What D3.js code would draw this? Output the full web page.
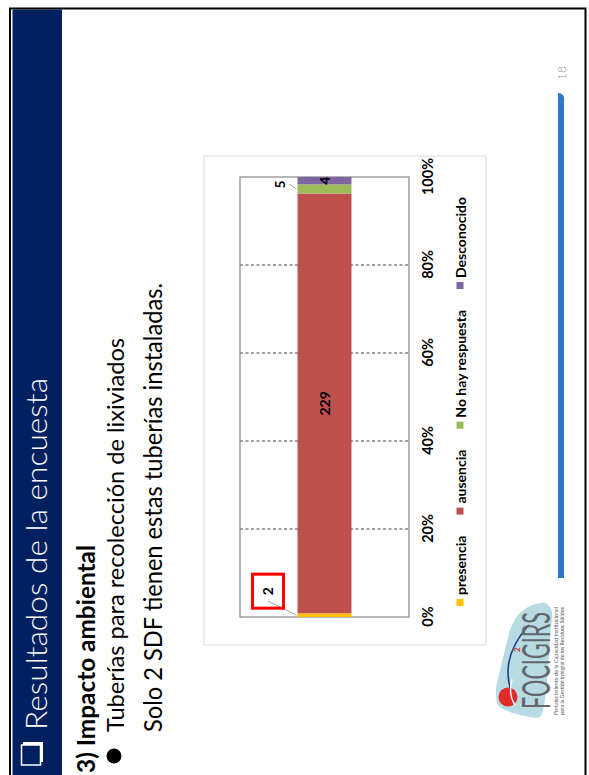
<!DOCTYPE html>
<html>
<head>
<meta charset="utf-8">
<script src="https://cdn.jsdelivr.net/npm/d3@7"></script>
<style>
  html, body { margin: 0; padding: 0; background: #ffffff; }
  svg { display: block; }
  text { font-family: Lato, "Open Sans", "DejaVu Sans", sans-serif; }
</style>
</head>
<body>
<svg id="slide" width="589" height="775"></svg>
<script>
// Survey results: leachate collection pipes at final disposal sites (SDF)
const categories = ["presencia", "ausencia", "No hay respuesta", "Desconocido"];
const counts = [2, 229, 5, 4];
const colors = ["#ffc000", "#c0504d", "#9bbb59", "#8064a2"];
const tickValues = [0, 0.2, 0.4, 0.6, 0.8, 1];
const gridValues = [0.2, 0.4, 0.6, 0.8];

const titleText = "Resultados de la encuesta";
const sectionText = "3) Impacto ambiental";
const bulletText = "Tuberías para recolección de lixiviados";
const noteText = "Solo 2 SDF tienen estas tuberías instaladas.";
const pageNumber = "18";
const logoName = "FOCIGIRS";
const logoLines = ["Fortalecimiento de la Capacidad Institucional",
                   "para la Gestión Integral de los Residuos Sólidos"];

const svg = d3.select("#slide");

// The slide is laid out in its own landscape frame (775 x 589) and turned a quarter turn.
const slide = svg.append("g").attr("transform", "translate(0,775) rotate(-90)");

// ---- frame and header band ----
slide.append("rect").attr("x", 0).attr("y", 12.5).attr("width", 765.5).attr("height", 49.5)
  .attr("fill", "#002060");
const frame = slide.append("g").attr("stroke", "#000").attr("stroke-width", 2).attr("fill", "none");
frame.append("path").attr("d", "M0,10 H766.5 V585.5 H0");

// checkbox glyph in the header
const box = slide.append("g");
box.append("path").attr("d", "M13,41.5 H31.5 V23").attr("stroke", "#fff").attr("stroke-width", 3).attr("fill", "none");
box.append("rect").attr("x", 10).attr("y", 21.5).attr("width", 20).attr("height", 19)
  .attr("stroke", "#fff").attr("stroke-width", 1.5).attr("fill", "none");

slide.append("text").attr("x", 45).attr("y", 47).text(titleText)
  .attr("fill", "#fff").attr("font-size", 30).attr("font-weight", 300)
  .attr("textLength", 352).attr("lengthAdjust", "spacingAndGlyphs");

// ---- body text ----
slide.append("text").attr("x", 2).attr("y", 94.5).text(sectionText)
  .attr("fill", "#000").attr("font-size", 24).attr("font-weight", 700)
  .attr("textLength", 228).attr("lengthAdjust", "spacingAndGlyphs");
slide.append("circle").attr("cx", 19).attr("cy", 114).attr("r", 7.5).attr("fill", "#000");
slide.append("text").attr("x", 43).attr("y", 124).text(bulletText)
  .attr("fill", "#000").attr("font-size", 22.5)
  .attr("textLength", 394).attr("lengthAdjust", "spacingAndGlyphs");
slide.append("text").attr("x", 43).attr("y", 162).text(noteText)
  .attr("fill", "#000").attr("font-size", 24.5)
  .attr("textLength", 449).attr("lengthAdjust", "spacingAndGlyphs");

// ---- chart ----
const chart = slide.append("g");
chart.append("rect").attr("x", 130).attr("y", 204).attr("width", 489).attr("height", 282)
  .attr("fill", "#fff").attr("stroke", "#d9d9d9").attr("stroke-width", 1);

const total = d3.sum(counts);
let acc = 0;
const segments = counts.map((c, i) => {
  const s = { key: categories[i], value: c, x0: acc / total, x1: (acc + c) / total, color: colors[i] };
  acc += c;
  return s;
});

const x = d3.scaleLinear().domain([0, 1]).range([158, 598]);
const y = d3.scaleBand().domain(["SDF"]).range([240, 409]).padding(0.516);

chart.append("g").selectAll("line").data(gridValues).join("line")
  .attr("x1", d => x(d)).attr("x2", d => x(d))
  .attr("y1", 240).attr("y2", 409)
  .attr("stroke", "#404040").attr("stroke-width", 1).attr("stroke-dasharray", "3,2.5");

chart.append("rect").attr("x", x(0)).attr("y", 240).attr("width", x(1) - x(0)).attr("height", 169)
  .attr("fill", "none").attr("stroke", "#868686").attr("stroke-width", 1.2);

chart.append("g").selectAll("rect").data(segments).join("rect")
  .attr("x", d => x(d.x0)).attr("width", d => x(d.x1) - x(d.x0))
  .attr("y", y("SDF")).attr("height", y.bandwidth())
  .attr("fill", d => d.color);

// percentage axis
const axis = chart.append("g").attr("transform", "translate(0,409)")
  .call(d3.axisBottom(x).tickValues(tickValues).tickFormat(d3.format(".0%")).tickSize(0).tickPadding(14));
axis.select(".domain").remove();
axis.selectAll("text").attr("font-family", "Lato, 'Open Sans', sans-serif")
  .attr("font-size", 14.5).attr("font-weight", 700).attr("fill", "#000");

// value labels: large segments inside, thin ones outside with a leader line
const outside = { "presencia": { du: 24, dv: -30, lu: 174, lv: 268 }, "No hay respuesta": { du: 4.5, dv: -18.5, lu: 591, lv: 289 } };
const labels = chart.append("g").attr("font-size", 14).attr("font-weight", 700).attr("fill", "#000");
segments.forEach(d => {
  const cu = x((d.x0 + d.x1) / 2);
  const cv = y("SDF") + y.bandwidth() / 2;
  const o = outside[d.key];
  if (o) {
    const lu = cu + o.du, lv = y("SDF") + o.dv;
    chart.append("line").attr("x1", o.lu).attr("y1", o.lv).attr("x2", cu).attr("y2", y("SDF") - 1)
      .attr("stroke", "#a6a6a6").attr("stroke-width", 1);
    labels.append("text").attr("x", lu).attr("y", lv).attr("text-anchor", "middle")
      .attr("dominant-baseline", "central").text(d.value);
    if (d.key === "presencia") {
      chart.append("rect").attr("x", lu - 17).attr("y", lv - 15).attr("width", 34).attr("height", 31)
        .attr("fill", "none").attr("stroke", "#ff0000").attr("stroke-width", 3);
    }
  } else {
    labels.append("text").attr("x", cu).attr("y", cv).attr("text-anchor", "middle")
      .attr("dominant-baseline", "central").text(d.value);
  }
});

// legend below the plot
const legend = chart.append("g");
let lu = 169;
categories.forEach((c, i) => {
  legend.append("rect").attr("x", lu).attr("y", 456.5).attr("width", 7).attr("height", 7).attr("fill", colors[i]);
  const t = legend.append("text").attr("x", lu + 11).attr("y", 460).attr("dominant-baseline", "central")
    .attr("font-size", 14).attr("font-weight", 700).attr("fill", "#000").text(c);
  lu = lu + 11 + t.node().getComputedTextLength() + 21;
});

// ---- footer: page number, accent bar, logo ----
slide.append("text").attr("x", 695).attr("y", 566).text(pageNumber)
  .attr("font-size", 12).attr("font-weight", 300).attr("fill", "#8c8c8c");
slide.append("path").attr("d", "M197,558 H682 C682,561 680,564 677,564 H197 Z").attr("fill", "#2e78c8");

const logo = slide.append("g");
const mapOutline = [[172,545],[163,552],[135,550],[105,548],[75,545],[58,540],[59,525],[63,510],
                    [70,498],[85,496],[105,500],[125,505],[145,510],[160,518],[169,530]];
logo.append("path").attr("d", d3.line().curve(d3.curveCardinalClosed.tension(0.3))(mapOutline))
  .attr("fill", "#b7dbe3");
logo.append("path").attr("d", "M84,511 Q118,500 150,529").attr("stroke", "#1f3c88").attr("stroke-width", 1.6).attr("fill", "none");
logo.append("circle").attr("cx", 78).attr("cy", 508).attr("r", 9.5).attr("fill", "#e32b2b");
logo.append("path").attr("d", "M70,515 Q80,508 96,512").attr("stroke", "#fff").attr("stroke-width", 1.4).attr("fill", "none");
logo.append("text").attr("x", 66).attr("y", 550).text(logoName)
  .attr("font-size", 39).attr("fill", "#66676b")
  .attr("textLength", 97).attr("lengthAdjust", "spacingAndGlyphs");
logo.append("text").attr("x", 123).attr("y", 520).text("2")
  .attr("font-size", 8).attr("font-weight", 700).attr("fill", "#c0392b");
logoLines.forEach((l, i) => {
  logo.append("text").attr("x", 60).attr("y", 557.5 + i * 6.5).text(l)
    .attr("font-size", 5.5).attr("fill", "#555")
    .attr("textLength", 108).attr("lengthAdjust", "spacingAndGlyphs");
});
</script>
</body>
</html>
